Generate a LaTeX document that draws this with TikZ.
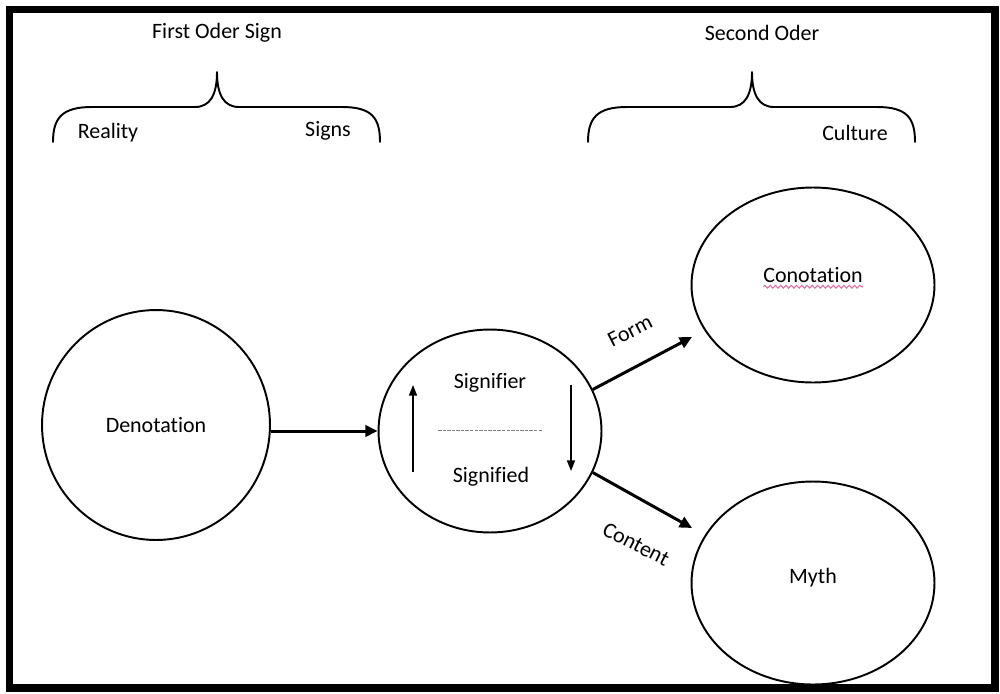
\documentclass[tikz,border=0pt]{standalone}
\usepackage{fontspec}
\setmainfont{Carlito}[Ligatures=NoCommon]
\usepackage{xcolor}
\usetikzlibrary{shapes.geometric,calc,arrows.meta,decorations.pathmorphing}
\definecolor{ink}{HTML}{000000}
\definecolor{rule}{HTML}{808080}
\definecolor{squig}{HTML}{E0709A}
\tikzset{
  frame/.style={draw=ink, line width=4.5pt},
  brace/.style={draw=ink, line width=1.1pt, line cap=round, line join=round},
  orb/.style={ellipse, draw=ink, line width=1.1pt, inner sep=0pt},
  flow/.style={draw=ink, line width=1.7pt, -{Triangle[length=7pt,width=6.5pt]}},
  turn/.style={draw=ink, line width=0.9pt, -{Triangle[length=6pt,width=4.5pt]}},
  lab/.style={text=ink, font=\fontsize{12.5}{14}\selectfont, inner sep=1pt},
  bar/.style={draw=rule, line width=0.5pt, dash pattern=on 2pt off 0.6pt},
  wavy/.style={draw=squig, line width=0.6pt, decorate,
    decoration={snake, amplitude=0.8pt, segment length=3pt}},
}

\begin{document}
\begin{tikzpicture}[x=0.02cm, y=-0.02cm]
  \useasboundingbox (0,0) rectangle (1000,693);
  \draw[frame] (9.5,9.5) rectangle (995,688);

  % top braces
  \node[lab] (first) at (217,33) {First Oder Sign};
  \node[lab] (reality) at (108,133) {Reality};
  \node[lab] (signs) at (328,131) {Signs};
  \draw[brace] (53,142) .. controls (53,118) and (62,107) .. (92,107)
    -- (195,107) .. controls (210,107) and (217,95) .. (217,72)
    .. controls (217,95) and (224,107) .. (239,107)
    -- (342,107) .. controls (372,107) and (380,118) .. (380,142);

  \node[lab] (second) at (762,33) {Second Oder};
  \node[lab] (culture) at (855,133) {Culture};
  \draw[brace] (588,142) .. controls (588,118) and (597,107) .. (627,107)
    -- (730,107) .. controls (745,107) and (752,95) .. (752,72)
    .. controls (752,95) and (759,107) .. (774,107)
    -- (877,107) .. controls (907,107) and (915,118) .. (915,142);

  % circles
  \node[orb, minimum width=4.56cm, minimum height=4.6cm] (deno) at (156,425) {};
  \node[lab] at (deno) {Denotation};
  \node[orb, minimum width=4.46cm, minimum height=4.06cm] (sign) at (490,431) {};
  \node[orb, minimum width=4.86cm, minimum height=3.9cm] (cono) at (813,285) {};
  \node[orb, minimum width=4.86cm, minimum height=4.06cm] (myth) at (813,583) {};

  \node[lab] (signifier) at (490,383) {Signifier};
  \node[lab] (signified) at (491,477) {Signified};
  \node[lab] (conotext) at (813,275) {Conotation};
  \node[lab] (mythtext) at (813,578) {Myth};

  % inner bar and turning arrows
  \coordinate (barl) at (438,430);
  \coordinate (barr) at (543,430);
  \draw[bar] (barl) -- (barr);
  \coordinate (upa) at (413,472);
  \coordinate (upb) at (413,385);
  \coordinate (dna) at (571,385);
  \coordinate (dnb) at (571,471);
  \draw[turn] (upa) -- (upb);
  \draw[turn] (dna) -- (dnb);

  % spelling squiggle
  \draw[wavy] ($(conotext.south west)+(2,2)$) -- ($(conotext.south east)+(-2,2)$);

  % main arrows
  \coordinate (formend) at (692,337);
  \coordinate (contend) at (692,528);
  \draw[flow] (deno.east |- sign.west) -- (sign.west);
  \draw[flow] (sign.22) -- (formend);
  \draw[flow] (sign.-22) -- (contend);
  \node[lab, rotate=27] (form) at (630,331) {Form};
  \node[lab, rotate=-27] (content) at (636,544) {Content};
\end{tikzpicture}
\end{document}
